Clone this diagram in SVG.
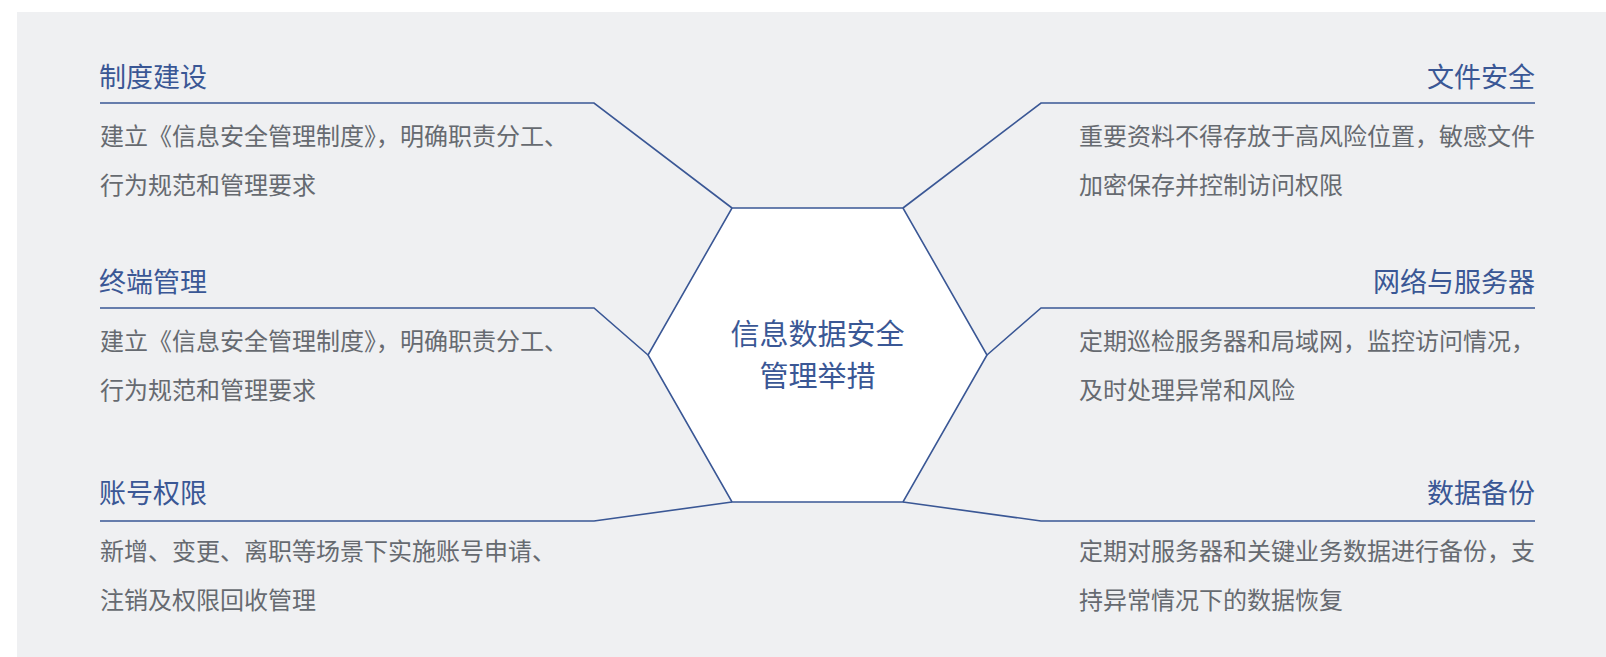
<svg xmlns="http://www.w3.org/2000/svg" width="1606" height="657" viewBox="0 0 1606 657">
<style>
text{font-family:"Noto Sans CJK SC","Noto Sans",sans-serif}
.t{font-size:27px;fill:#3a5795}
.b{font-size:24px;fill:#666a70}
.c{font-size:29px;fill:#3a5795;text-anchor:middle}
.r{text-anchor:end}
.ln{fill:none;stroke:#3a5795;stroke-width:1.6}
</style>
<rect x="0" y="0" width="1606" height="657" fill="#ffffff"/>
<rect x="17" y="12" width="1589" height="645" fill="#eff0f2"/>
<g id="connectors">
<polyline class="ln" points="100,103 594,103 732,208"/>
<polyline class="ln" points="100,308 594,308 648,355"/>
<polyline class="ln" points="100,521 594,521 732,502"/>
<polyline class="ln" points="1535,103 1041,103 903,208"/>
<polyline class="ln" points="1535,308 1041,308 987,355"/>
<polyline class="ln" points="1535,521 1041,521 903,502"/>
</g>
<g id="center">
<polygon points="732,208 903,208 987,355 903,502 732,502 648,355" fill="#ffffff" stroke="#3a5795" stroke-width="1.6"/>
<text class="c" x="817.5" y="345">信息数据安全</text>
<text class="c" x="817.5" y="387">管理举措</text>
</g>
<g id="node-zhidu">
<text class="t" x="99" y="87">制度建设</text>
<text class="b" x="100" y="145">建立《信息安全管理制度》，明确职责分工、</text>
<text class="b" x="100" y="194">行为规范和管理要求</text>
</g>
<g id="node-zhongduan">
<text class="t" x="99" y="292">终端管理</text>
<text class="b" x="100" y="350">建立《信息安全管理制度》，明确职责分工、</text>
<text class="b" x="100" y="399">行为规范和管理要求</text>
</g>
<g id="node-zhanghao">
<text class="t" x="99" y="503">账号权限</text>
<text class="b" x="100" y="560">新增、变更、离职等场景下实施账号申请、</text>
<text class="b" x="100" y="609">注销及权限回收管理</text>
</g>
<g id="node-wenjian">
<text class="t r" x="1535" y="87">文件安全</text>
<text class="b" x="1079" y="145">重要资料不得存放于高风险位置，敏感文件</text>
<text class="b" x="1079" y="194">加密保存并控制访问权限</text>
</g>
<g id="node-wangluo">
<text class="t r" x="1535" y="292">网络与服务器</text>
<text class="b" x="1079" y="350">定期巡检服务器和局域网，监控访问情况，</text>
<text class="b" x="1079" y="399">及时处理异常和风险</text>
</g>
<g id="node-shuju">
<text class="t r" x="1535" y="503">数据备份</text>
<text class="b" x="1079" y="560">定期对服务器和关键业务数据进行备份，支</text>
<text class="b" x="1079" y="609">持异常情况下的数据恢复</text>
</g>
</svg>
